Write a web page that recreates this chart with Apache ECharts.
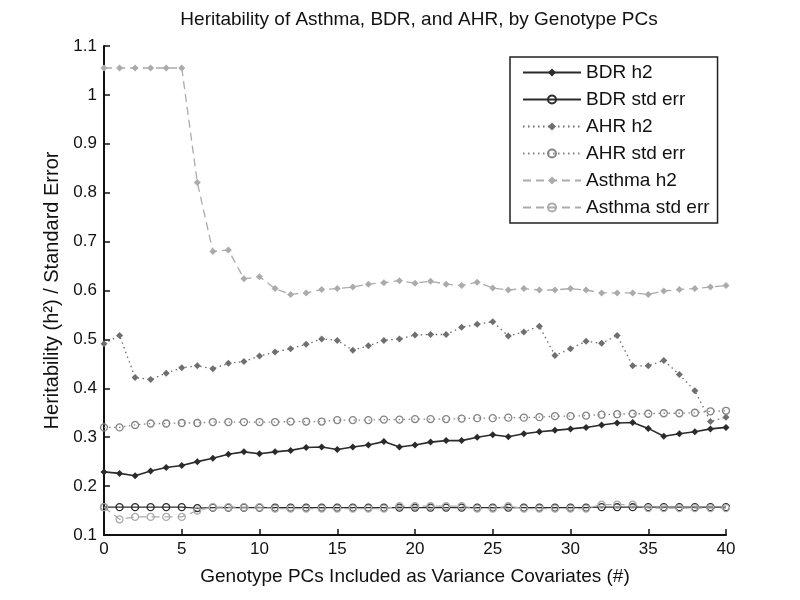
<!DOCTYPE html>
<html>
<head>
<meta charset="utf-8">
<script src="https://cdn.jsdelivr.net/npm/echarts@6/dist/echarts.min.js"></script>
<style>
html, body { margin: 0; padding: 0; background: #fff; }
#chart { width: 800px; height: 600px; }
</style>
</head>
<body>
<div id="chart"></div>
<script>
// x: number of genotype PCs included (0..40)
const pcCounts = Array.from({ length: 41 }, (_, i) => i)

const bdrH2 = [0.229, 0.226, 0.221, 0.231, 0.238, 0.242, 0.250, 0.257, 0.265, 0.270,
    0.266, 0.270, 0.273, 0.279, 0.280, 0.275, 0.280, 0.284, 0.291, 0.280,
    0.284, 0.290, 0.293, 0.293, 0.300, 0.305, 0.301, 0.307, 0.311, 0.314,
    0.317, 0.320, 0.325, 0.329, 0.330, 0.318, 0.302, 0.307, 0.311, 0.317, 0.320]
const bdrSe = [0.157, 0.157, 0.157, 0.157, 0.157, 0.157, 0.155, 0.156, 0.156, 0.156,
    0.156, 0.156, 0.156, 0.156, 0.156, 0.156, 0.156, 0.156, 0.156, 0.156,
    0.156, 0.156, 0.156, 0.156, 0.156, 0.156, 0.156, 0.156, 0.156, 0.156,
    0.156, 0.156, 0.157, 0.157, 0.157, 0.157, 0.157, 0.157, 0.157, 0.157, 0.157]
const ahrH2 = [0.491, 0.508, 0.422, 0.418, 0.431, 0.442, 0.446, 0.440, 0.451, 0.455,
    0.466, 0.474, 0.481, 0.490, 0.501, 0.498, 0.478, 0.487, 0.498, 0.501,
    0.509, 0.510, 0.510, 0.525, 0.531, 0.536, 0.507, 0.515, 0.527, 0.467,
    0.481, 0.496, 0.492, 0.508, 0.446, 0.446, 0.457, 0.428, 0.395, 0.332, 0.341]
const ahrSe = [0.320, 0.320, 0.325, 0.328, 0.328, 0.329, 0.329, 0.331, 0.331, 0.331,
    0.331, 0.331, 0.332, 0.332, 0.332, 0.335, 0.335, 0.335, 0.336, 0.336,
    0.337, 0.337, 0.337, 0.338, 0.339, 0.339, 0.340, 0.340, 0.341, 0.343,
    0.343, 0.344, 0.346, 0.347, 0.348, 0.348, 0.349, 0.349, 0.350, 0.353, 0.354]
const asthmaH2 = [1.055, 1.055, 1.055, 1.055, 1.055, 1.055, 0.821, 0.680, 0.683, 0.624,
    0.628, 0.604, 0.592, 0.595, 0.602, 0.604, 0.607, 0.613, 0.616, 0.620,
    0.615, 0.619, 0.613, 0.610, 0.617, 0.605, 0.601, 0.604, 0.601, 0.601,
    0.604, 0.601, 0.595, 0.595, 0.595, 0.592, 0.599, 0.602, 0.604, 0.607, 0.610]
const asthmaSe = [0.157, 0.132, 0.137, 0.137, 0.137, 0.137, 0.150, 0.157, 0.157, 0.157,
    0.157, 0.154, 0.154, 0.154, 0.154, 0.154, 0.154, 0.154, 0.154, 0.159,
    0.159, 0.159, 0.159, 0.159, 0.154, 0.154, 0.159, 0.154, 0.154, 0.154,
    0.154, 0.154, 0.162, 0.162, 0.162, 0.155, 0.155, 0.155, 0.155, 0.155, 0.155]

const seriesNames = ['BDR h2', 'BDR std err', 'AHR h2', 'AHR std err', 'Asthma h2', 'Asthma std err']
const xTicks = { min: 0, max: 40, interval: 5 }
const yTicks = { min: 0.1, max: 1.1, interval: 0.1 }

const FONT = 'Liberation Sans'
const DARK = '#2b2b2b'
const MID = '#6f6f6f'
const LIGHT = '#ababab'
const DOTS = [1.5, 3.5]
const DASH = [8, 5]

function pairs(values) {
    return pcCounts.map((x, i) => [x, values[i]])
}

function makeSeries(name, values, color, lineType, filled) {
    return {
        name: name,
        type: 'line',
        data: pairs(values),
        symbol: filled ? 'diamond' : 'circle',
        symbolSize: 7,
        showAllSymbol: true,
        lineStyle: { color: color, width: filled && color === DARK ? 1.6 : 1.3, type: lineType },
        itemStyle: filled
            ? { color: color, borderWidth: 0 }
            : { color: 'rgba(0,0,0,0)', borderColor: color, borderWidth: 1.3 },
        emphasis: { disabled: true },
    }
}

const chart = echarts.init(document.getElementById('chart'))
const option = {
    animation: false,
    backgroundColor: '#fff',
    title: {
        text: 'Heritability of Asthma, BDR, and AHR, by Genotype PCs',
        left: 414,
        textAlign: 'center',
        top: 5,
        textStyle: { fontFamily: FONT, fontSize: 19, fontWeight: 'normal', color: '#111' },
    },
    legend: {
        orient: 'vertical',
        left: 510,
        top: 57,
        padding: [6, 8, 6, 12],
        itemWidth: 58,
        itemHeight: 10,
        itemGap: 8,
        borderColor: '#222',
        borderWidth: 1.5,
        backgroundColor: '#fff',
        data: seriesNames,
        textStyle: { fontFamily: FONT, fontSize: 19, color: '#111' },
    },
    grid: { left: 104, right: 74, top: 46, bottom: 65 },
    xAxis: {
        type: 'value',
        min: xTicks.min,
        max: xTicks.max,
        interval: xTicks.interval,
        name: 'Genotype PCs Included as Variance Covariates (#)',
        nameLocation: 'middle',
        nameGap: 32,
        nameTextStyle: { fontFamily: FONT, fontSize: 19, color: '#111' },
        axisLine: { onZero: false, lineStyle: { color: '#111', width: 2 } },
        axisTick: { inside: true, length: 6, lineStyle: { color: '#111', width: 1.5 } },
        axisLabel: { fontFamily: FONT, fontSize: 17, color: '#111', margin: 6 },
        splitLine: { show: false },
    },
    yAxis: {
        type: 'value',
        min: yTicks.min,
        max: yTicks.max,
        interval: yTicks.interval,
        name: 'Heritability (h\u00b2) / Standard Error',
        nameLocation: 'middle',
        nameGap: 36,
        nameTextStyle: { fontFamily: FONT, fontSize: 20, color: '#111' },
        axisLine: { show: true, lineStyle: { color: '#111', width: 2 } },
        axisTick: { show: true, inside: true, length: 6, lineStyle: { color: '#111', width: 1.5 } },
        axisLabel: { fontFamily: FONT, fontSize: 17, color: '#111', margin: 7 },
        splitLine: { show: false },
    },
    series: [
        makeSeries(seriesNames[0], bdrH2, DARK, 'solid', true),
        makeSeries(seriesNames[1], bdrSe, DARK, 'solid', false),
        makeSeries(seriesNames[2], ahrH2, MID, DOTS, true),
        makeSeries(seriesNames[3], ahrSe, '#858585', DOTS, false),
        makeSeries(seriesNames[4], asthmaH2, LIGHT, DASH, true),
        makeSeries(seriesNames[5], asthmaSe, LIGHT, DASH, false),
    ],
}
chart.setOption(option)
</script>
</body>
</html>
